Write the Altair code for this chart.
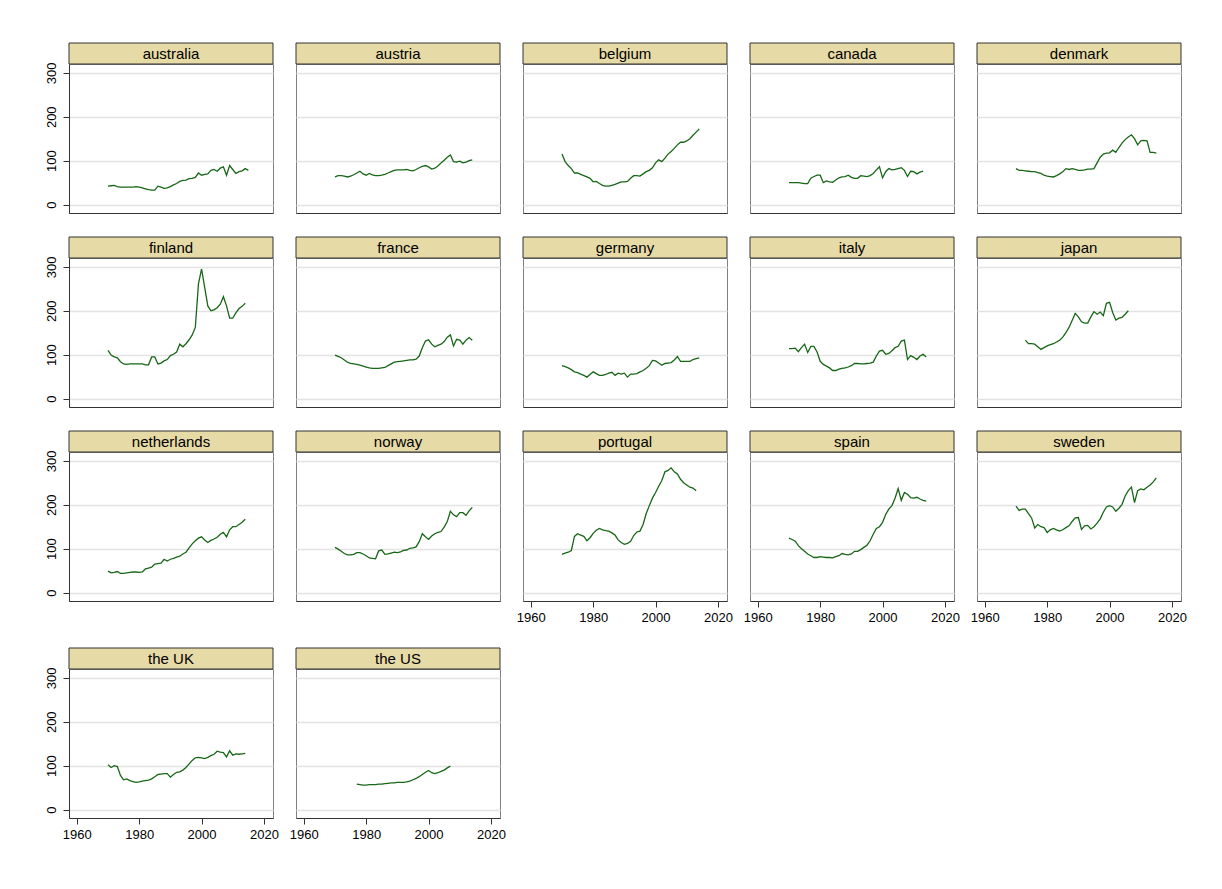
import altair as alt
import pandas as pd

# ---------------- data ----------------
countries = ["australia", "austria", "belgium", "canada", "denmark",
             "finland", "france", "germany", "italy", "japan",
             "netherlands", "norway", "portugal", "spain", "sweden",
             "the UK", "the US"]

start_years = [1970, 1970, 1970, 1970, 1970,
               1970, 1970, 1970, 1970, 1973,
               1970, 1970, 1970, 1970, 1970,
               1970, 1977]

australia = [42, 43, 44, 41, 40, 40, 40, 40, 40, 41, 40, 38, 36, 34, 33, 33, 42, 40, 37, 38,
             41, 45, 48, 53, 55, 56, 59, 60, 62, 72, 67, 69, 70, 78, 80, 76, 83, 86, 67, 89,
             80, 71, 75, 77, 82, 78]
austria = [63, 66, 66, 65, 63, 65, 68, 72, 76, 70, 67, 71, 68, 66, 66, 67, 69, 72, 75, 78,
           79, 79, 79, 80, 78, 77, 80, 84, 87, 89, 86, 81, 83, 88, 95, 101, 108, 113, 98, 97,
           99, 95, 97, 100, 102]
belgium = [115, 98, 89, 82, 72, 72, 69, 66, 63, 60, 52, 53, 48, 44, 42, 42, 44, 46, 49, 52,
           52, 53, 60, 66, 66, 65, 70, 75, 78, 84, 95, 102, 98, 106, 115, 121, 128, 136, 142, 142,
           145, 150, 158, 165, 172]
canada = [50, 50, 50, 50, 49, 48, 48, 60, 64, 67, 67, 50, 54, 52, 51, 56, 61, 63, 64, 67,
          62, 60, 60, 66, 65, 64, 66, 71, 79, 86, 61, 75, 82, 79, 80, 82, 84, 78, 64, 76,
          75, 70, 74, 76]
denmark = [82, 78, 78, 77, 76, 75, 75, 73, 71, 67, 65, 64, 63, 66, 70, 75, 82, 80, 82, 80,
           78, 78, 79, 81, 81, 82, 95, 108, 115, 117, 118, 124, 119, 130, 140, 148, 154, 159, 150, 136,
           145, 146, 145, 119, 119, 117]
finland = [110, 99, 95, 93, 84, 79, 78, 79, 79, 79, 79, 79, 77, 77, 95, 95, 79, 81, 86, 89,
           98, 101, 106, 124, 118, 125, 134, 145, 162, 261, 295, 253, 211, 200, 202, 207, 215, 232, 211, 183,
           183, 195, 205, 210, 217]
france = [99, 96, 93, 88, 83, 80, 79, 78, 76, 74, 72, 70, 69, 69, 69, 70, 71, 75, 79, 83,
          84, 85, 86, 87, 88, 88, 90, 97, 116, 131, 134, 124, 118, 121, 124, 130, 140, 145, 120, 135,
          133, 124, 133, 139, 133]
germany = [75, 73, 70, 66, 61, 59, 56, 53, 49, 55, 61, 57, 53, 53, 55, 58, 60, 53, 58, 56,
           58, 49, 56, 56, 57, 61, 64, 69, 75, 87, 86, 81, 76, 80, 81, 82, 88, 96, 85, 85,
           85, 85, 89, 91, 93]
italy = [114, 114, 115, 107, 116, 124, 105, 119, 119, 106, 85, 78, 74, 70, 64, 64, 67, 69, 70, 72,
         75, 80, 80, 79, 79, 80, 81, 83, 97, 108, 110, 101, 103, 109, 116, 119, 131, 133, 89, 98,
         94, 89, 97, 101, 95]
japan = [133, 125, 125, 124, 118, 112, 116, 120, 123, 125, 129, 133, 140, 150, 162, 178, 194, 186, 175, 172,
         172, 186, 198, 192, 197, 189, 217, 219, 196, 179, 183, 185, 192, 200]
netherlands = [49, 45, 46, 48, 44, 44, 45, 46, 47, 47, 46, 47, 54, 56, 58, 65, 66, 67, 76, 72,
               76, 78, 81, 83, 88, 92, 102, 111, 118, 124, 127, 120, 114, 119, 122, 126, 133, 137, 127, 143,
               150, 150, 155, 160, 167]
norway = [103, 99, 94, 89, 86, 86, 87, 91, 91, 88, 84, 79, 78, 77, 95, 97, 87, 88, 90, 92,
          91, 93, 96, 97, 101, 102, 104, 116, 134, 127, 121, 129, 134, 137, 139, 149, 162, 185, 177, 173,
          182, 182, 176, 186, 194]
portugal = [87, 90, 92, 96, 128, 134, 131, 128, 118, 125, 135, 142, 146, 143, 141, 140, 136, 131, 120, 114,
            110, 112, 117, 130, 138, 140, 155, 180, 198, 215, 228, 242, 255, 275, 278, 284, 275, 270, 258, 250,
            245, 240, 238, 232]
spain = [124, 121, 117, 107, 100, 94, 88, 84, 80, 80, 82, 81, 80, 80, 79, 82, 84, 89, 87, 86,
         88, 94, 94, 98, 103, 108, 118, 133, 146, 150, 160, 178, 190, 198, 215, 237, 210, 228, 224, 216,
         215, 217, 213, 210, 208]
sweden = [197, 187, 190, 190, 180, 170, 147, 155, 150, 148, 137, 143, 146, 143, 140, 143, 148, 152, 162, 170,
          171, 144, 152, 153, 145, 150, 158, 168, 183, 195, 198, 195, 185, 192, 201, 220, 232, 240, 205, 232,
          236, 234, 240, 245, 252, 261]
the_uk = [102, 96, 100, 98, 78, 68, 70, 66, 64, 62, 63, 65, 66, 67, 70, 75, 80, 81, 82, 82,
          74, 80, 85, 86, 90, 96, 104, 112, 118, 119, 118, 116, 119, 123, 126, 133, 131, 130, 120, 134,
          124, 127, 126, 127, 128]
the_us = [58, 57, 56, 56, 57, 57, 57, 58, 58, 59, 60, 61, 61, 62, 62, 62, 63, 65, 68, 71,
          75, 80, 85, 89, 84, 82, 84, 87, 90, 95, 99]

series = [australia, austria, belgium, canada, denmark,
          finland, france, germany, italy, japan,
          netherlands, norway, portugal, spain, sweden,
          the_uk, the_us]

y_ticks = [0, 100, 200, 300]
x_ticks = [1960, 1980, 2000, 2020]
with_x_labels = ["portugal", "spain", "sweden", "the UK", "the US"]

# ---------------- styling ----------------
W, H, HDR = 204, 149, 21
FONT = "Liberation Sans"
LINE_COLOR = "#176717"
STRIP_FILL = "#E6DAA6"

panels = []
for i, (name, start, vals) in enumerate(zip(countries, start_years, series)):
    first_col = (i % 5 == 0)
    show_x = name in with_x_labels
    df = pd.DataFrame({"year": list(range(start, start + len(vals))), "value": vals})

    y_axis = alt.Axis(values=y_ticks, title=None, grid=True, labels=first_col,
                      ticks=first_col, domain=first_col, labelAngle=270,
                      labelAlign="center", labelBaseline="bottom", labelPadding=5,
                      tickSize=6)
    x_axis = alt.Axis(values=x_ticks, title=None, grid=False, labels=show_x,
                      ticks=show_x, domain=True, format="d", labelAngle=0,
                      tickSize=6, labelPadding=4)

    line = alt.Chart(df).mark_line(color=LINE_COLOR, strokeWidth=1.3).encode(
        x=alt.X("year:Q", scale=alt.Scale(domain=[1957.5, 2022.9], nice=False, zero=False),
                axis=x_axis),
        y=alt.Y("value:Q", scale=alt.Scale(domain=[-19, 320], nice=False, zero=False),
                axis=y_axis),
    )
    hdr_df = pd.DataFrame({"name": [name]})
    strip = alt.Chart(hdr_df).mark_rect(fill=STRIP_FILL, stroke="#333333", strokeWidth=1).encode(
        x=alt.value(0), x2=alt.value(W), y=alt.value(-HDR), y2=alt.value(0)
    )
    label = alt.Chart(hdr_df).mark_text(font=FONT, fontSize=15, color="#000000",
                                        baseline="middle", align="center").encode(
        x=alt.value(W / 2), y=alt.value(-HDR / 2), text="name:N"
    )
    panels.append(alt.layer(line, strip, label).properties(width=W, height=H))

chart = alt.concat(*panels, columns=5, spacing={"row": 22, "column": 9}).properties(
    padding={"left": 36, "top": 34, "right": 5, "bottom": 5},
    background="white",
    align="each",
).configure_view(
    stroke="#808080", strokeWidth=1
).configure_axis(
    labelFont=FONT, labelFontSize=13, labelColor="#000000",
    tickColor="#333333", domainColor="#333333", domainWidth=1,
    gridColor="#E3E3E3", gridWidth=1.5
)

chart.save("out.html", embed_options={"renderer": "svg", "actions": False})
